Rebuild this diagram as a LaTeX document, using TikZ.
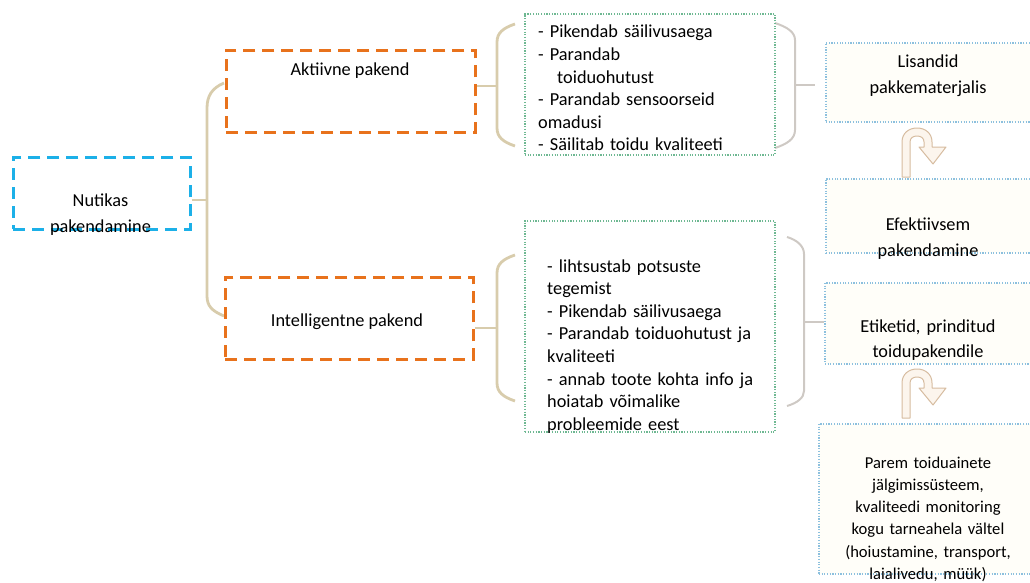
\documentclass[tikz,border=0pt]{standalone}
\usepackage{fontspec}
\setmainfont{Carlito}
\definecolor{nutblue}{RGB}{28,176,232}
\definecolor{pakorange}{RGB}{232,114,28}
\definecolor{brtan}{RGB}{216,204,172}
\definecolor{brgrey}{RGB}{206,201,196}
\definecolor{dotgreen}{RGB}{110,184,146}
\definecolor{dotblue}{RGB}{140,192,222}
\definecolor{creamfill}{RGB}{255,254,249}
\definecolor{turnline}{RGB}{214,188,160}
\definecolor{turnfill}{RGB}{252,245,237}
\tikzset{
  dashbox/.style={draw, line width=2.8pt, dash pattern=on 12pt off 7pt,
    inner sep=0, anchor=north west},
  greenbox/.style={draw=dotgreen, line width=1.6pt, dash pattern=on 1.2pt off 1.5pt,
    fill=white, inner sep=0, anchor=north west},
  bluebox/.style={draw=dotblue, line width=1.6pt, dash pattern=on 1.2pt off 1.5pt,
    fill=creamfill, inner sep=0, anchor=north west},
  txt/.style={inner sep=0, anchor=base, font=\fontsize{18.3}{22.6}\selectfont},
  listtxt/.style={inner sep=0, anchor=base west, align=left, text width=225pt,
    font=\fontsize{18.3}{22.6}\selectfont},
  ctxt/.style={inner sep=0, anchor=base, align=center, text width=200pt},
  bracket/.style={draw=brtan, line width=2.8pt},
  rbracket/.style={draw=brgrey, line width=2pt},
  uturn/.pic={
    \path[draw=turnline, fill=turnfill, line width=1pt, line join=round]
      (0,0) -- (0,-35) .. controls (0,-44) and (7,-49) .. (15,-49)
      .. controls (23,-49) and (30,-44) .. (30,-35) -- (30,-30) -- (44,-30)
      -- (31,-13) -- (17,-30) -- (22,-30) -- (22,-35)
      .. controls (22,-39) and (19,-41) .. (15,-41)
      .. controls (11,-41) and (8,-39) .. (8,-35) -- (8,0) -- cycle;
  }
}
\begin{document}
\begin{tikzpicture}[x=1pt, y=-1pt]
\useasboundingbox (0,0) rectangle (1030,583);
\clip (0,0) rectangle (1030,583);

% brackets of the tree
\coordinate (brN) at (207,200);
\draw[bracket] (224,83) .. controls (212,88) and (207,96) .. (207,108)
  -- (207,296) .. controls (207,306) and (212,311) .. (224,316);
\coordinate (brA) at (497,86);
\draw[bracket] (515,24) .. controls (503,28) and (497,33) .. (497,42)
  -- (497,128) .. controls (497,137) and (503,142) .. (515,146);
\coordinate (brI) at (497,328);
\draw[bracket] (515,255) .. controls (503,259) and (497,264) .. (497,273)
  -- (497,383) .. controls (497,392) and (503,397) .. (515,401);
\coordinate (brR1) at (795,85);
\draw[rbracket] (775,23) .. controls (787,27) and (795,32) .. (795,40)
  -- (795,130) .. controls (795,139) and (787,144) .. (775,148);
\coordinate (brR2) at (804,322);
\draw[rbracket] (787,237) .. controls (797,240) and (804,246) .. (804,254)
  -- (804,391) .. controls (804,398) and (797,403) .. (787,406);

% root
\node[dashbox, draw=nutblue, minimum width=177pt, minimum height=72pt] (nut) at (12,156) {};
\node[ctxt, text width=170pt, font=\fontsize{18.3}{26}\selectfont] (nutT) at (100.5,206) {Nutikas\\pakendamine};

% packaging types
\node[dashbox, draw=pakorange, minimum width=249pt, minimum height=82pt] (akt) at (225,49) {};
\node[txt] (aktT) at (350,76) {Aktiivne pakend};
\node[dashbox, draw=pakorange, minimum width=248pt, minimum height=82pt] (int) at (224,276) {};
\node[txt] (intT) at (347,326) {Intelligentne pakend};

% property lists
\node[greenbox, minimum width=250pt, minimum height=141pt] (g1) at (524,13) {};
\node[listtxt] (g1T) at (538,38) {- Pikendab säilivusaega\\
- Parandab\\
\hspace*{19pt}toiduohutust\\
- Parandab sensoorseid\\
omadusi\\
- Säilitab toidu kvaliteeti};
\node[greenbox, minimum width=250pt, minimum height=211pt] (g2) at (524,220) {};
\node[listtxt] (g2T) at (547,272) {- lihtsustab potsuste\\
tegemist\\
- Pikendab säilivusaega\\
- Parandab toiduohutust ja\\
kvaliteeti\\
- annab toote kohta info ja\\
hoiatab võimalike\\
probleemide eest};

% outcomes
\node[bluebox, minimum width=215pt, minimum height=79pt] (lis) at (825,42) {};
\node[ctxt, font=\fontsize{18.3}{26}\selectfont] (lisT) at (928,68) {Lisandid\\pakkematerjalis};
\node[bluebox, minimum width=215pt, minimum height=74pt] (eff) at (825,178) {};
\node[ctxt, font=\fontsize{18.3}{26}\selectfont] (effT) at (928,230) {Efektiivsem\\pakendamine};
\node[bluebox, minimum width=216pt, minimum height=81pt] (eti) at (824,282) {};
\node[ctxt, font=\fontsize{18.3}{25}\selectfont] (etiT) at (928,332) {Etiketid, prinditud\\toidupakendile};
\node[bluebox, minimum width=222pt, minimum height=150pt] (par) at (818,423) {};
\node[ctxt, font=\fontsize{16.6}{22.3}\selectfont] (parT) at (928,468) {Parem toiduainete\\
jälgimissüsteem,\\
kvaliteedi monitoring\\
kogu tarneahela vältel\\
(hoiustamine, transport,\\
laialivedu, müük)};

% connectors
\draw[bracket] (nut.east |- brN) -- (brN);
\draw[bracket] (akt.east |- brA) -- (brA);
\draw[bracket] (int.east |- brI) -- (brI);
\draw[rbracket, shorten >=10pt] (brR1) -- (lis.west |- brR1);
\draw[rbracket] (brR2) -- (eti.west |- brR2);

% u-turn arrows between outcomes
\pic (turnA) at (902,177) {uturn};
\pic (turnB) at (902,418) {uturn};
\end{tikzpicture}
\end{document}
